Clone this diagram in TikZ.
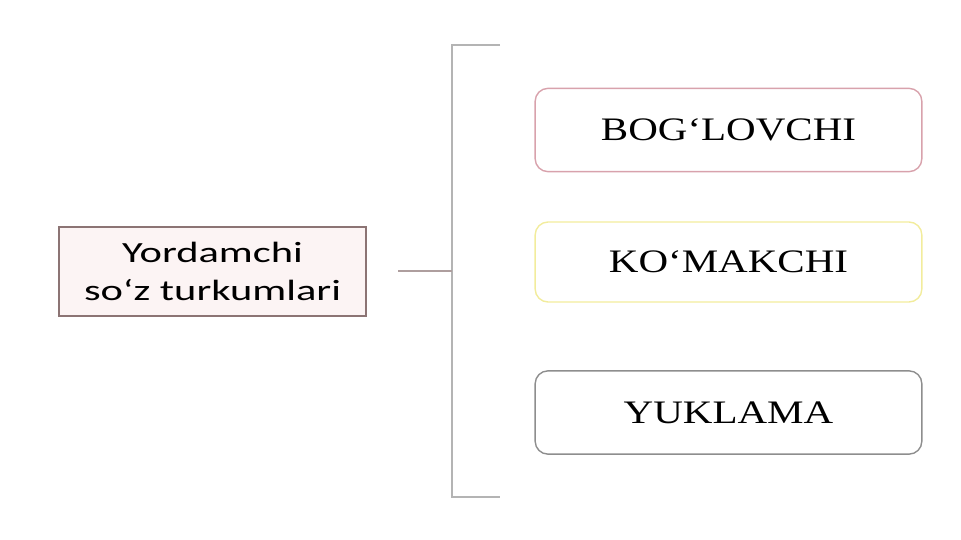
\documentclass[tikz,border=0pt]{standalone}
\usepackage{fontspec}
\newfontfamily\kindfont[FakeStretch=1.25]{Liberation Serif}
\newfontfamily\titlefont[FakeStretch=1.45]{Carlito}
\definecolor{titleline}{HTML}{8C7474}
\definecolor{titlefill}{HTML}{FCF4F4}
\definecolor{boglovline}{HTML}{D8A2AC}
\definecolor{komakline}{HTML}{F2EC9C}
\definecolor{yuklamaline}{HTML}{8E8E8E}
\definecolor{braceline}{HTML}{B4B4B4}

\begin{document}
\begin{tikzpicture}[x=0.03cm,y=-0.03cm,
  kind/.style={rounded corners=11pt,line width=1.2pt,minimum width=11.6cm,minimum height=2.5cm,font=\kindfont\fontsize{28}{32}\selectfont},
  title/.style={draw=titleline,fill=titlefill,line width=1.6pt,minimum width=9.2cm,minimum height=2.67cm,align=center,font=\titlefont\fontsize{25}{30}\selectfont}]

\useasboundingbox (0,0) rectangle (961,540);

\node[title] (words) at (212.5,271.5) {Yordamchi\\[3pt]so‘z turkumlari};

\node[kind,draw=boglovline] (boglov) at (728.5,130) {BOG‘LOVCHI};
\node[kind,draw=komakline,minimum height=2.4cm] (komak) at (728.5,262) {KO‘MAKCHI};
\node[kind,draw=yuklamaline] (yuklama) at (728.5,412.5) {YUKLAMA};

% bracket
\coordinate (top) at (500,45);
\coordinate (bottom) at (500,497);
\coordinate (spine) at (452,271);
\coordinate (stem) at (398,271);
\draw[braceline,line width=1pt] (top) -- (452,45) -- (452,497) -- (bottom);
\draw[titleline!70,line width=1.2pt] (stem) -- (spine);

\end{tikzpicture}
\end{document}
